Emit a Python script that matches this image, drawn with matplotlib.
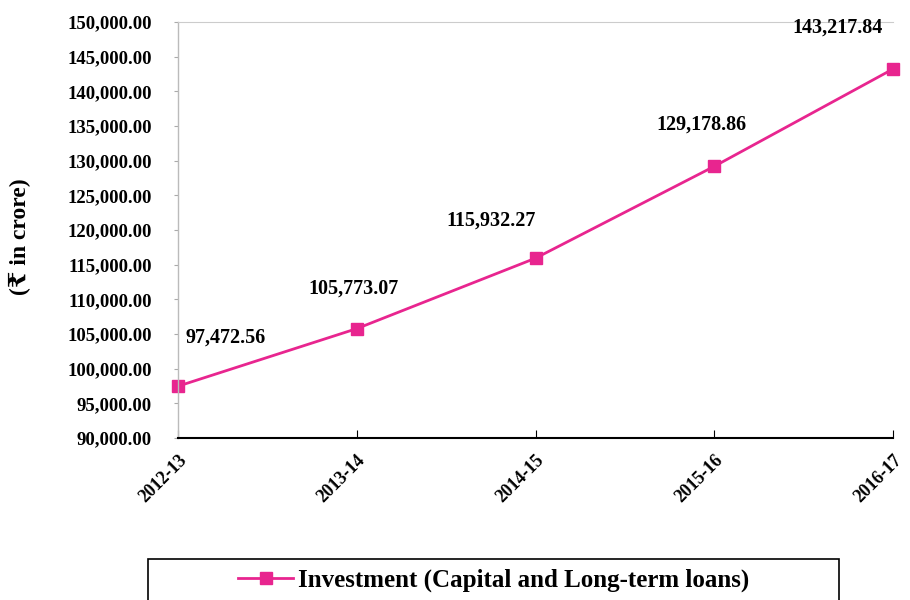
import matplotlib
matplotlib.use("Agg")
import matplotlib.pyplot as plt
from matplotlib.patches import Rectangle
from matplotlib.ticker import FuncFormatter

years = ["2012-13", "2013-14", "2014-15", "2015-16", "2016-17"]
investment = [97472.56, 105773.07, 115932.27, 129178.86, 143217.84]
label_text = ["97,472.56", "105,773.07", "115,932.27", "129,178.86", "143,217.84"]
series_name = "Investment (Capital and Long-term loans)"

SERIF = ["Liberation Serif", "DejaVu Serif"]
plt.rcParams["font.family"] = SERIF
color = "#E8258F"

fig = plt.figure(figsize=(9.1, 6.0), dpi=100)
ax = fig.add_axes([178/910, 1-438/600, (893-178)/910, (438-22)/600])

x = list(range(len(years)))
line, = ax.plot(x, investment, color=color, lw=2, marker="s", markersize=9,
                markerfacecolor=color, markeredgecolor=color, clip_on=False,
                label=series_name)

ax.set_xlim(0, len(years) - 1)
ax.set_ylim(90000, 150000)
ax.set_yticks(range(90000, 150001, 5000))
ax.yaxis.set_major_formatter(FuncFormatter(lambda v, p: f"{v:,.2f}"))
ax.set_xticks(x)
ax.set_xticklabels(years, rotation=45, ha="right", va="top",
                   rotation_mode="anchor", fontweight="bold", fontsize=13)
for t in ax.get_yticklabels():
    t.set_fontweight("bold")
    t.set_fontsize(13.5)

ax.tick_params(axis="y", length=3, color="#aaaaaa", pad=16)
ax.tick_params(axis="x", length=6, color="black", pad=10, direction="in")

ax.spines["right"].set_visible(False)
ax.spines["top"].set_color("#cccccc")
ax.spines["left"].set_color("#bbbbbb")
ax.spines["left"].set_linewidth(1)
ax.spines["bottom"].set_color("black")
ax.spines["bottom"].set_linewidth(1.5)
ax.spines["bottom"].set_zorder(5)

offsets = [(34, 35), (-2, 29), (-32, 27), (-9, 30), (-40, 30)]
for xi, yi, txt, off in zip(x, investment, label_text, offsets):
    ax.annotate(txt, (xi, yi), xytext=off, textcoords="offset points",
                ha="center", va="center", fontsize=14.5, fontweight="bold",
                annotation_clip=False)

fig.text(20/910, 1-237/600, "(₹ in crore)", rotation=90, ha="center", va="center",
         fontsize=17, fontweight="bold", family=SERIF)

# legend box
rect = Rectangle((148/910, -0.05), (839-148)/910, 0.05 + (600-559)/600,
                 transform=fig.transFigure, fill=False, edgecolor="black",
                 lw=1.2, clip_on=False)
fig.patches.append(rect)
leg = fig.legend(handles=[line], loc="center", bbox_to_anchor=(494/910, 1-580/600),
                 frameon=False, handlelength=2.2, handletextpad=0.2,
                 prop={"family": SERIF, "weight": "bold", "size": 18})

fig.savefig("out.png", dpi=100)
